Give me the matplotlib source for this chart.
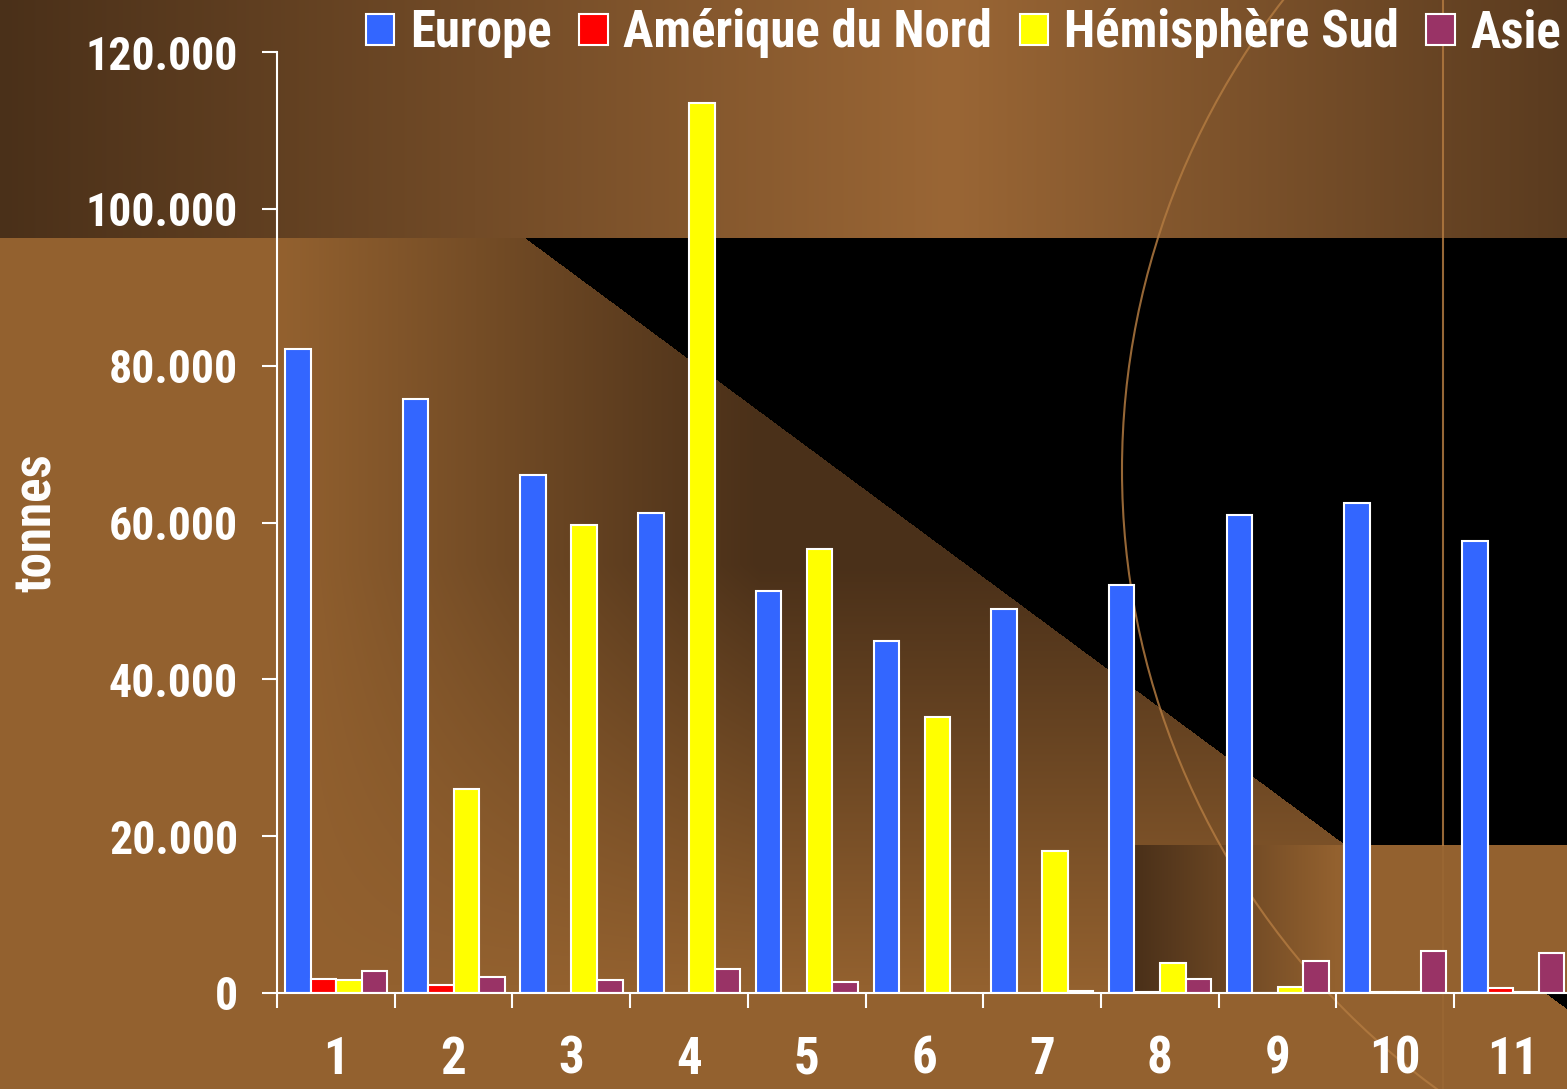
import os
import numpy as np
import matplotlib
matplotlib.use('Agg')
import matplotlib.pyplot as plt
from matplotlib import font_manager as fm
from matplotlib.ticker import FuncFormatter, FixedLocator
from matplotlib.patches import Circle

# data (tonnes)
groups = ['1', '2', '3', '4', '5', '6', '7', '8', '9', '10', '11']
series = ['Europe', 'Amérique du Nord', 'Hémisphère Sud', 'Asie']
europe = [82100, 75800, 66100, 61200, 51300, 44900, 49000, 52000, 61000, 62500, 57600]
amerique = [1800, 1000, 0, 0, 0, 0, 0, 150, 0, 150, 600]
hemisud = [1600, 26000, 59700, 113500, 56600, 35200, 18100, 3800, 800, 150, 150]
asie = [2800, 2000, 1600, 3000, 1400, 0, 250, 1800, 4100, 5400, 5100]
colors = ['#3366ff', '#ff0000', '#ffff00', '#993366']

# look for a narrow bold face, the original uses a condensed helvetica
wanted = ['liberationsansnarrow-bold.ttf', 'robotocondensed-bold.ttf',
          'notosans-condensedbold.ttf', 'opensans-condensedbold.ttf',
          'opensanscondensed-bold.ttf', 'dejavusanscondensed-bold.ttf',
          'liberationsans-bold.ttf', 'roboto-bold.ttf']
files = {os.path.basename(f.fname).lower(): f.fname for f in fm.fontManager.ttflist}
fpath = None
for w in wanted:
    if w in files:
        fpath = files[w]
        break
if fpath:
    fp = fm.FontProperties(fname=fpath, size=36)
else:
    fp = fm.FontProperties(family='DejaVu Sans', weight='bold', size=36)

W, H = 1567, 1089
fig = plt.figure(figsize=(W / 100, H / 100), dpi=100)

# shrink the size if the face is wider than the original one
r = fig.canvas.get_renderer()
probe = fig.text(0, 0, '120.000', fontproperties=fp)
pw = probe.get_window_extent(r).width
probe.remove()
fp.set_size(min(36, 36 * 153 / pw))
fp_big = fp.copy()
fp_big.set_size(min(40, fp.get_size() * 1.11))

# background picture
bg = fig.add_axes([0, 0, 1, 1], zorder=-1)
bg.set_axis_off()
yy, xx = np.mgrid[0:H, 0:W] + 0.5
light = np.array([0x93, 0x61, 0x2f]) / 255
dark = np.array([0x4a, 0x30, 0x19]) / 255
peak = np.array([0x9a, 0x66, 0x35]) / 255
rdark = np.array([0x5a, 0x3b, 0x1f]) / 255

def lerp(c1, c2, t):
    return c1 + (c2 - c1) * t[..., None]

t = np.clip((xx - 280) / 480, 0, 1) * np.clip((985 - yy) / 420, 0, 1)
img = lerp(light, dark, t)

top = yy < 238
tl = lerp(dark, peak, np.clip(xx / 950, 0, 1))
tr = lerp(peak, rdark, np.clip((xx - 950) / 617, 0, 1))
band = np.where((xx < 950)[..., None], tl, tr)
img[top] = band[top]

diag = 238 + 0.74 * (xx - 525)
black = (yy >= 238) & (yy < diag)
img[black] = 0

rect = (xx >= 1135) & (yy >= 845) & (yy <= 993)
rc = lerp(dark, light, np.clip((xx - 1135) / 200, 0, 1))
img[rect] = rc[rect]

bg.imshow(img, extent=[0, W, H, 0], aspect='auto', interpolation='bilinear')
bg.set_xlim(0, W)
bg.set_ylim(H, 0)
bg.add_patch(Circle((1888, 470), 766, fill=False, ec='#b27a40', lw=1.5, alpha=0.85))
bg.plot([1443, 1443], [0, 845], color='#b27a40', lw=1.5, alpha=0.85)
bg.plot([1443, 1443], [845, H], color='#b27a40', lw=1.2, alpha=0.25)

# chart
gw = 117.7
ax = fig.add_axes([277 / W, 1 - 993 / H, (W - 277) / W, 941 / H])
ax.patch.set_alpha(0)

x = np.arange(len(groups))
bw = 0.217
off = 0.068
for i, (name, vals) in enumerate(zip(series, [europe, amerique, hemisud, asie])):
    ax.bar(x + off + bw * i, vals, width=bw, align='edge', color=colors[i],
           edgecolor='white', linewidth=1.5, label=name)

ax.set_xlim(0, (W - 277) / gw)
ax.set_ylim(0, 120000)
ax.set_yticks(np.arange(0, 120001, 20000))
ax.yaxis.set_major_formatter(FuncFormatter(lambda v, p: f'{int(v):,}'.replace(',', '.')))
ax.xaxis.set_major_locator(FixedLocator(np.arange(0, 12)))
ax.xaxis.set_major_formatter(FuncFormatter(lambda v, p: ''))
ax.set_xticks(x + 0.5, minor=True)
ax.set_xticklabels(groups, minor=True)

for s in ['top', 'right']:
    ax.spines[s].set_visible(False)
for s in ['left', 'bottom']:
    ax.spines[s].set_color('white')
    ax.spines[s].set_linewidth(1.5)
ax.tick_params(axis='both', which='major', colors='white', length=11, width=1.5,
               direction='out')
ax.tick_params(axis='y', pad=17, labelcolor='white')
ax.tick_params(axis='x', which='minor', length=0, pad=30, labelcolor='white')
for lab in ax.get_yticklabels():
    lab.set_fontproperties(fp)
for lab in ax.get_xticklabels(minor=True):
    lab.set_fontproperties(fp_big)

fig.text(37 / W, 1 - 523 / H, 'tonnes', rotation=90, ha='center', va='center',
         color='white', fontproperties=fp_big)

h, l = ax.get_legend_handles_labels()
leg = fig.legend(h, l, loc='upper right', bbox_to_anchor=(1561 / W, 1 - 8 / H),
                 ncol=4, frameon=False, borderpad=0, borderaxespad=0, prop=fp_big,
                 handlelength=0.56, handleheight=0.56, handletextpad=0.3,
                 columnspacing=0.55)
for txt in leg.get_texts():
    txt.set_color('white')

fig.savefig('out.png', dpi=100)
